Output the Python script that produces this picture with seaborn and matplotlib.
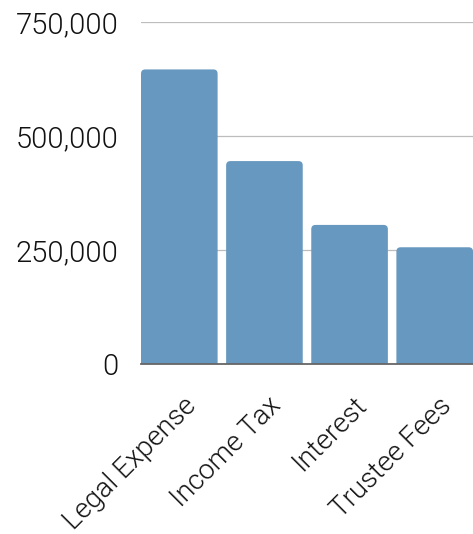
import matplotlib
matplotlib.use("Agg")
import matplotlib.pyplot as plt
import seaborn as sns
import pandas as pd
from matplotlib.ticker import FuncFormatter
from matplotlib.patches import FancyBboxPatch
from matplotlib.transforms import ScaledTranslation

categories = ["Legal Expense", "Income Tax", "Interest", "Trustee Fees"]
values = [646000, 445000, 305000, 256000]
yticks = [0, 250000, 500000, 750000]

df = pd.DataFrame({"category": categories, "value": values})

sns.set_style("white")
plt.rcParams["font.family"] = ["Roboto", "DejaVu Sans"]

fig = plt.figure(figsize=(4.73, 5.34), dpi=100)
ax = fig.add_axes([141 / 473, 1 - 364 / 534, 1 - 141 / 473, (364 - 22) / 534])

bar_color = "#6798bf"
sns.barplot(data=df, x="category", y="value", color=bar_color, saturation=1,
            width=0.9, ax=ax, zorder=3)

ax.set_xlim(-0.45, 3.45)
ax.set_ylim(0, 750000)

# rounded top corners
ext = 20000
for p in list(ax.patches):
    x, w, h = p.get_x(), p.get_width(), p.get_height()
    fb = FancyBboxPatch((x, -ext), w, h + ext,
                        boxstyle="round,pad=0,rounding_size=0.05",
                        mutation_aspect=188000, facecolor=bar_color,
                        edgecolor="none", zorder=3)
    p.remove()
    ax.add_patch(fb)

ax.set_yticks(yticks)
ax.yaxis.set_major_formatter(FuncFormatter(lambda v, p: f"{int(v):,}"))
ax.grid(axis="y", color="#bdbdbd", linewidth=0.9, zorder=0)
ax.grid(axis="x", visible=False)
ax.set_axisbelow(True)
for s in ["top", "right", "left"]:
    ax.spines[s].set_visible(False)
ax.spines["bottom"].set_color("#666666")
ax.spines["bottom"].set_linewidth(1.3)
ax.spines["bottom"].set_zorder(4)
ax.set_xlabel("")
ax.set_ylabel("")
ax.tick_params(axis="y", length=0, pad=16, labelsize=21, labelcolor="#111111")
for lab in ax.get_yticklabels():
    lab.set_fontweight(300)
ax.tick_params(axis="x", length=0, labelbottom=False)

offset = ax.get_xaxis_transform() + ScaledTranslation(3 / 100, -28 / 100, fig.dpi_scale_trans)
for i, c in enumerate(categories):
    ax.text(i, 0, c, transform=offset, rotation=45, rotation_mode="anchor",
            ha="right", va="top", fontsize=20, fontweight=300, color="#111111")

fig.savefig("out.png", dpi=100)
